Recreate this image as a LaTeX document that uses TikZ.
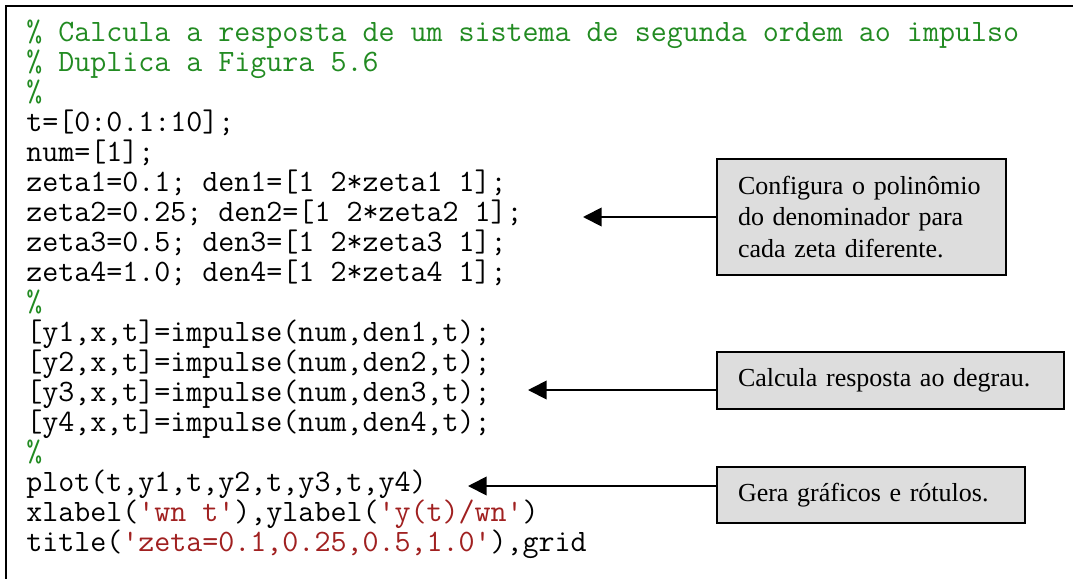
\documentclass[tikz,border=0pt]{standalone}
\usepackage{fontspec}
\setmainfont{Liberation Serif}
\usetikzlibrary{arrows.meta}

\definecolor{commentgreen}{RGB}{34,139,34}
\definecolor{stringred}{RGB}{160,32,32}
\definecolor{notegray}{RGB}{221,221,221}

\tikzset{
    codeline/.style={anchor=base west, inner sep=0pt, font=\ttfamily\fontsize{23.32}{26}\selectfont},
    comment/.style={codeline, text=commentgreen},
    note/.style={draw, line width=1.5pt, fill=notegray, anchor=west, align=left,
        inner xsep=15.75pt, inner ysep=0pt, font=\fontsize{19.5}{23.8}\selectfont},
    pointer/.style={-{Triangle[length=14pt, width=14pt]}, line width=1.4pt}
}

\newcommand{\str}[1]{{\color{stringred}#1}}

\begin{document}
\begin{tikzpicture}[x=0.75pt, y=-0.75pt]

    \useasboundingbox (0, 0) rectangle (1073, 579);

    % Frame round the listing (cut at right and bottom)
    \draw[line width=1.5pt] (1073, 6) -- (6, 6) -- (6, 579);

    % Header comments
    \node[comment] (line1) at (26, 41) {\% Calcula a resposta de um sistema de segunda ordem ao impulso};
    \node[comment] (line2) at (26, 71) {\% Duplica a Figura 5.6};
    \node[comment] (line3) at (26, 101) {\%};

    % Parameters
    \node[codeline] (line4) at (26, 131) {t=[0:0.1:10];};
    \node[codeline] (line5) at (26, 161) {num=[1];};
    \node[codeline] (line6) at (26, 191) {zeta1=0.1; den1=[1 2*zeta1 1];};
    \node[codeline] (line7) at (26, 221) {zeta2=0.25; den2=[1 2*zeta2 1];};
    \node[codeline] (line8) at (26, 251) {zeta3=0.5; den3=[1 2*zeta3 1];};
    \node[codeline] (line9) at (26, 281) {zeta4=1.0; den4=[1 2*zeta4 1];};
    \node[comment] (line10) at (26, 311) {\%};

    % Impulse responses
    \node[codeline] (line11) at (26, 341) {[y1,x,t]=impulse(num,den1,t);};
    \node[codeline] (line12) at (26, 371) {[y2,x,t]=impulse(num,den2,t);};
    \node[codeline] (line13) at (26, 401) {[y3,x,t]=impulse(num,den3,t);};
    \node[codeline] (line14) at (26, 431) {[y4,x,t]=impulse(num,den4,t);};
    \node[comment] (line15) at (26, 461) {\%};

    % Plot commands
    \node[codeline] (line16) at (26, 491) {plot(t,y1,t,y2,t,y3,t,y4)};
    \node[codeline] (line17) at (26, 521) {xlabel(\str{'wn t'}),ylabel(\str{'y(t)/wn'})};
    \node[codeline] (line18) at (26, 551) {title(\str{'zeta=0.1,0.25,0.5,1.0'}),grid};

    % Notes
    \node[note, text width=185.25pt, minimum height=87pt] (denbox) at (716, 217)
        {Configura o polinômio\\do denominador para\\cada zeta diferente.};
    \node[note, text width=228.75pt, minimum height=42.75pt] (impbox) at (716, 380.5)
        {Calcula resposta ao degrau.};
    \node[note, text width=199.5pt, minimum height=42pt] (plotbox) at (716, 495)
        {Gera gráficos e rótulos.};

    % Arrow tips
    \coordinate (denptr) at (583, 217);
    \coordinate (impptr) at (528, 390);
    \coordinate (plotptr) at (468, 486);

    \draw[pointer] (denptr -| denbox.west) -- (denptr);
    \draw[pointer] (impptr -| impbox.west) -- (impptr);
    \draw[pointer] (plotptr -| plotbox.west) -- (plotptr);

\end{tikzpicture}
\end{document}
